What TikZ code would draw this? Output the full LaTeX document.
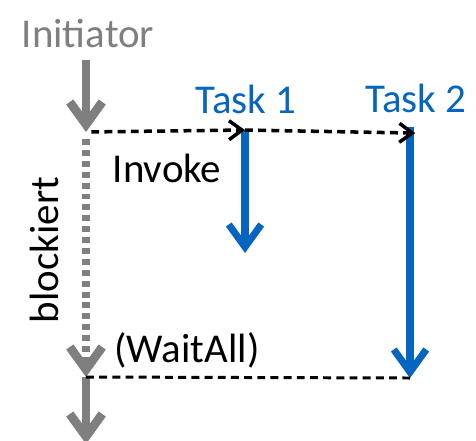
\documentclass[tikz,border=0pt]{standalone}
\usepackage{fontspec}
\setmainfont{Carlito}
\usepackage{tikz}
\usetikzlibrary{arrows.meta}
\definecolor{initgray}{HTML}{7F7F7F}
\definecolor{taskblue}{HTML}{0565C0}

\begin{document}
\begin{tikzpicture}[x=0.02cm, y=-0.02cm,
  lbl/.style={anchor=base, inner sep=0pt, font=\fontsize{23.3}{28}\selectfont},
  flow/.style={initgray, line width=5pt, -{Straight Barb[length=4.5mm, width=6.5mm]}},
  blocked/.style={initgray, line width=4pt, dash pattern=on 3.4pt off 2.8pt, -{Straight Barb[length=4.5mm, width=6.5mm, line width=5pt]}},
  task/.style={taskblue, line width=4pt, -{Straight Barb[length=4.5mm, width=6.5mm]}},
  call/.style={black, line width=2pt, dash pattern=on 4.5pt off 3pt, -{Straight Barb[length=2.6mm, width=3.8mm]}},
  back/.style={black, line width=1.7pt, dash pattern=on 4.5pt off 3pt}
]
  \useasboundingbox (0,0) rectangle (476,440);

  \node[lbl, initgray] (init) at (88,47) {Initiator};
  \node[lbl, taskblue] (task1) at (246,113) {Task 1};
  \node[lbl, taskblue] (task2) at (416,112) {Task 2};
  \node[lbl] (invoke) at (167,182) {Invoke};
  \node[lbl] (waitall) at (187,362) {(WaitAll)};
  \node[lbl, rotate=90] (blockiert) at (58,250) {blockiert};

  \coordinate (src) at (86,60);
  \coordinate (fork) at (86,132);
  \coordinate (join) at (86,377);
  \coordinate (out) at (86,444);
  \coordinate (t1top) at (245,130);
  \coordinate (t1end) at (245,253);
  \coordinate (t2top) at (410,127);
  \coordinate (t2end) at (410,378);

  \draw[flow] (src) -- (fork);
  \draw[blocked, shorten <=4pt] (fork) -- (join);
  \draw[flow] (join) -- (out);

  \draw[task] (t1top) -- (t1end);
  \draw[task] (t2top) -- (t2end);

  \draw[call, shorten <=3pt] (fork) -- (t1top);
  \draw[call, shorten >=-3pt] (t1top) -- ([yshift=-0.06cm]t2top |- t1top);
  \draw[back] (join) -- (t2end);
\end{tikzpicture}
\end{document}
